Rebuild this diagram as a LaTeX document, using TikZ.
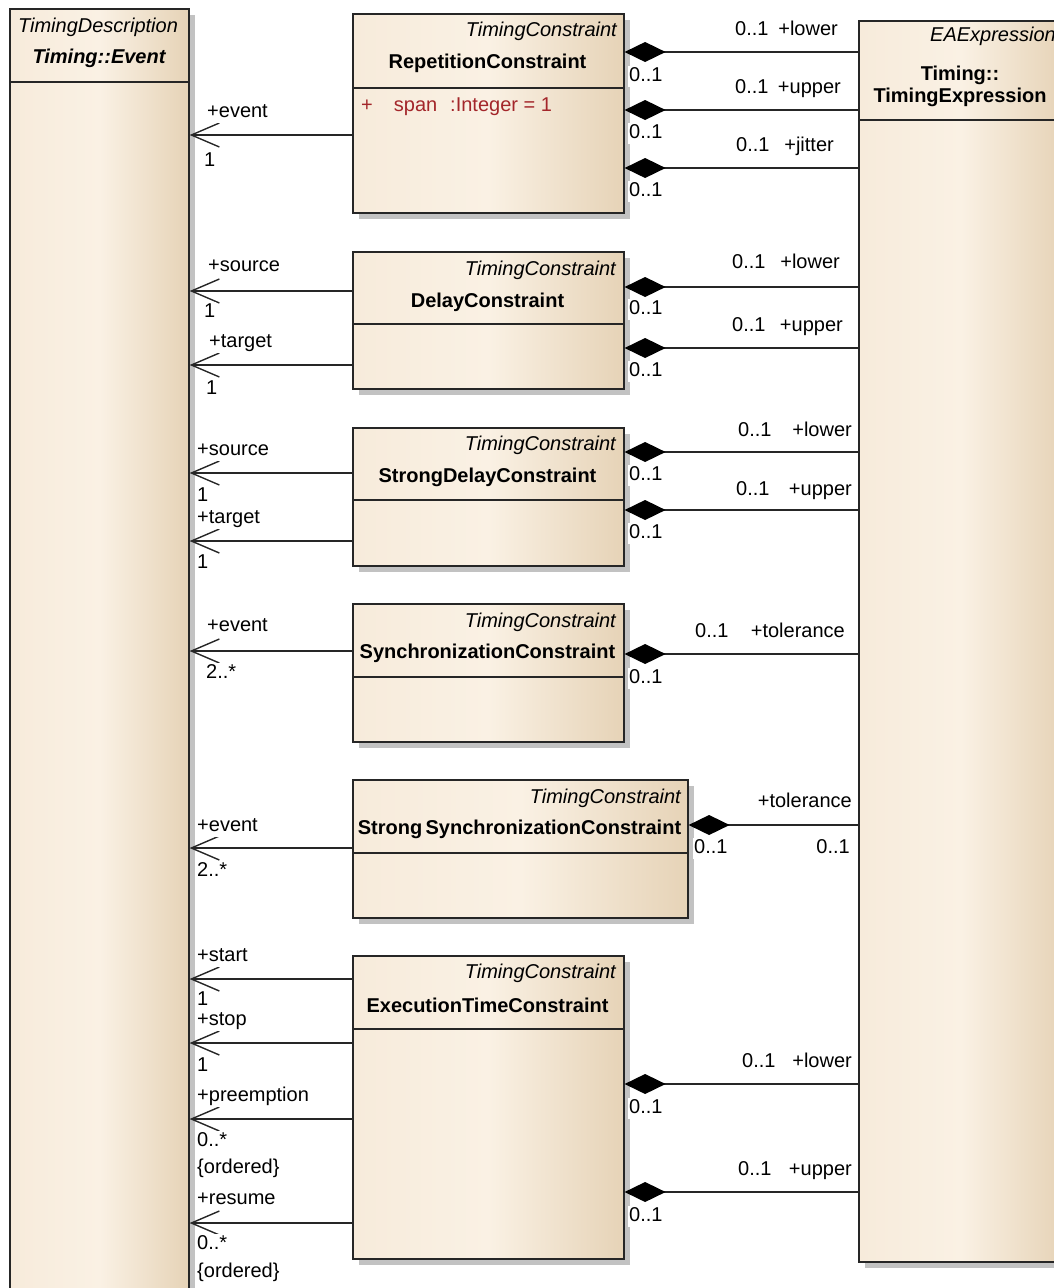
\documentclass[tikz,border=0pt]{standalone}
\usepackage{fontspec}
\setmainfont{Liberation Sans}
\usetikzlibrary{arrows.meta,shadows}

\definecolor{boxL}{HTML}{F7EBDB}
\definecolor{boxM}{HTML}{FAF1E4}
\definecolor{boxR}{HTML}{E6D3B7}
\definecolor{attrred}{HTML}{A3262A}
\definecolor{edge}{HTML}{262626}
\newcommand\umlfont{\fontsize{20}{24}\selectfont}

\tikzset{
  umlclass/.style={draw=edge, line width=1.6pt, anchor=north west, inner sep=0pt,
    left color=boxL, right color=boxR, middle color=boxM,
    drop shadow={shadow xshift=6pt, shadow yshift=-6pt, fill=black!24, opacity=1}},
  sep/.style={draw=edge, line width=1.6pt},
  stereo/.style={font=\umlfont\itshape, inner sep=0pt, anchor=east},
  cname/.style={font=\umlfont\bfseries, inner sep=0pt},
  attr/.style={font=\umlfont, text=attrred, inner sep=0pt, anchor=west},
  lbl/.style={font=\umlfont, inner sep=1pt, fill=white, anchor=west, text height=15pt, text depth=4pt},
  rlbl/.style={lbl, anchor=east},
  assoc/.style={draw=edge, line width=1.6pt, -{Straight Barb[length=28pt,width=24pt,line width=1.4pt]}},
  comp/.style={draw=edge, line width=1.6pt, -{Diamond[length=41pt,width=20pt,color=black]}}
}

\begin{document}
\begin{tikzpicture}[x=1pt, y=-1pt]
\useasboundingbox (0,0) rectangle (1054,1288);

% class boxes
\node[umlclass, minimum width=179pt, minimum height=1300pt] (ev) at (9,8) {};
\node[umlclass, minimum width=204pt, minimum height=1241pt] (expr) at (858,20) {};
\node[umlclass, minimum width=271pt, minimum height=199pt] (rep) at (352,13) {};
\node[umlclass, minimum width=271pt, minimum height=137pt] (delay) at (352,251) {};
\node[umlclass, minimum width=271pt, minimum height=138pt] (sdelay) at (352,427) {};
\node[umlclass, minimum width=271pt, minimum height=138pt] (sync) at (352,603) {};
\node[umlclass, minimum width=335pt, minimum height=138pt] (ssync) at (352,779) {};
\node[umlclass, minimum width=271pt, minimum height=303pt] (exec) at (352,955) {};

% compartment separators
\draw[sep] (ev.west |- 0,82) -- (ev.east |- 0,82);
\draw[sep] (expr.west |- 0,120) -- (expr.east |- 0,120);
\draw[sep] (rep.west |- 0,88) -- (rep.east |- 0,88);
\draw[sep] (delay.west |- 0,324) -- (delay.east |- 0,324);
\draw[sep] (sdelay.west |- 0,500) -- (sdelay.east |- 0,500);
\draw[sep] (sync.west |- 0,677) -- (sync.east |- 0,677);
\draw[sep] (ssync.west |- 0,853) -- (ssync.east |- 0,853);
\draw[sep] (exec.west |- 0,1029) -- (exec.east |- 0,1029);

% class headers
\node[font=\umlfont\itshape, inner sep=0pt] (ev-st) at (98,27) {TimingDescription};
\node[font=\umlfont\bfseries\itshape, inner sep=0pt] (ev-nm) at (99,58) {Timing::Event};
\node[stereo] (expr-st) at (1056,36) {EAExpression};
\node[cname] (expr-nm1) at (960,75) {Timing::};
\node[cname] (expr-nm2) at (960,97) {TimingExpression};

\node[stereo] (rep-st) at (617,31) {TimingConstraint};
\node[cname] (rep-nm) at (487.5,63) {RepetitionConstraint};
\node[attr] (rep-at) at (361,107) {+\hspace*{21pt}span\hspace*{13pt}:Integer = 1};

\node[stereo] (delay-st) at (616,270) {TimingConstraint};
\node[cname] (delay-nm) at (487.5,302) {DelayConstraint};

\node[stereo] (sdelay-st) at (616,445) {TimingConstraint};
\node[cname] (sdelay-nm) at (487.5,477) {StrongDelayConstraint};

\node[stereo] (sync-st) at (616,622) {TimingConstraint};
\node[cname] (sync-nm) at (487.5,653) {SynchronizationConstraint};

\node[stereo] (ssync-st) at (681,798) {TimingConstraint};
\node[cname] (ssync-nm) at (519.5,829) {Strong\,SynchronizationConstraint};

\node[stereo] (exec-st) at (616,973) {TimingConstraint};
\node[cname] (exec-nm) at (487.5,1005) {ExecutionTimeConstraint};

% associations to Timing::Event
\draw[assoc] (rep.west |- 0,135) -- (ev.east |- 0,135);
\draw[assoc] (delay.west |- 0,291) -- (ev.east |- 0,291);
\draw[assoc] (delay.west |- 0,365) -- (ev.east |- 0,365);
\draw[assoc] (sdelay.west |- 0,473) -- (ev.east |- 0,473);
\draw[assoc] (sdelay.west |- 0,541) -- (ev.east |- 0,541);
\draw[assoc] (sync.west |- 0,651) -- (ev.east |- 0,651);
\draw[assoc] (ssync.west |- 0,848) -- (ev.east |- 0,848);
\draw[assoc] (exec.west |- 0,979) -- (ev.east |- 0,979);
\draw[assoc] (exec.west |- 0,1043) -- (ev.east |- 0,1043);
\draw[assoc] (exec.west |- 0,1119) -- (ev.east |- 0,1119);
\draw[assoc] (exec.west |- 0,1223) -- (ev.east |- 0,1223);

% compositions with Timing::TimingExpression
\draw[comp] (expr.west |- 0,52) -- (rep.east |- 0,52);
\draw[comp] (expr.west |- 0,110) -- (rep.east |- 0,110);
\draw[comp] (expr.west |- 0,168) -- (rep.east |- 0,168);
\draw[comp] (expr.west |- 0,287) -- (delay.east |- 0,287);
\draw[comp] (expr.west |- 0,348) -- (delay.east |- 0,348);
\draw[comp] (expr.west |- 0,452) -- (sdelay.east |- 0,452);
\draw[comp] (expr.west |- 0,510) -- (sdelay.east |- 0,510);
\draw[comp] (expr.west |- 0,654) -- (sync.east |- 0,654);
\draw[comp] (expr.west |- 0,825) -- (ssync.east |- 0,825);
\draw[comp] (expr.west |- 0,1084) -- (exec.east |- 0,1084);
\draw[comp] (expr.west |- 0,1192) -- (exec.east |- 0,1192);

% role names and multiplicities at the event end
\foreach \x/\y/\t [count=\i] in {
  206/112/+event, 203/161/1,
  207/266/+source, 203/312/1, 208/342/+target, 205/389/1,
  196/450/+source, 196/496/1, 196/518/+target, 196/563/1,
  206/626/+event, 205/673/2..*,
  196/826/+event, 196/871/2..*,
  196/956/+start, 196/1000/1, 196/1020/+stop, 196/1066/1,
  196/1096/+preemption, 196/1141/0..*, 196/1168/\{ordered\},
  196/1199/+resume, 196/1244/0..*, 196/1272/\{ordered\}}
  \node[lbl, name=el\i] at (\x,\y) {\t};

% multiplicities at the composite end
\foreach \y [count=\i] in {76,133,191,309,371,475,533,678,1108,1216}
  \node[lbl, name=cm\i] at (628,\y) {0..1};
\node[lbl] (ssync-cm) at (693,848) {0..1};

% role names and multiplicities at the expression end
\foreach \m/\r/\y/\t [count=\i] in {
  734/839/30/+lower, 734/842/88/+upper, 735/835/146/+jitter,
  731/841/263/+lower, 731/844/326/+upper,
  737/853/431/+lower, 735/853/490/+upper,
  694/846/632/+tolerance,
  741/853/1062/+lower, 737/853/1170/+upper}
  {
  \node[lbl, name=xm\i] at (\m,\y) {0..1};
  \node[rlbl, name=xr\i] at (\r,\y) {\t};
  }
\node[rlbl] (ssync-xr) at (853,802) {+tolerance};
\node[rlbl] (ssync-xm) at (851,848) {0..1};

\end{tikzpicture}
\end{document}
